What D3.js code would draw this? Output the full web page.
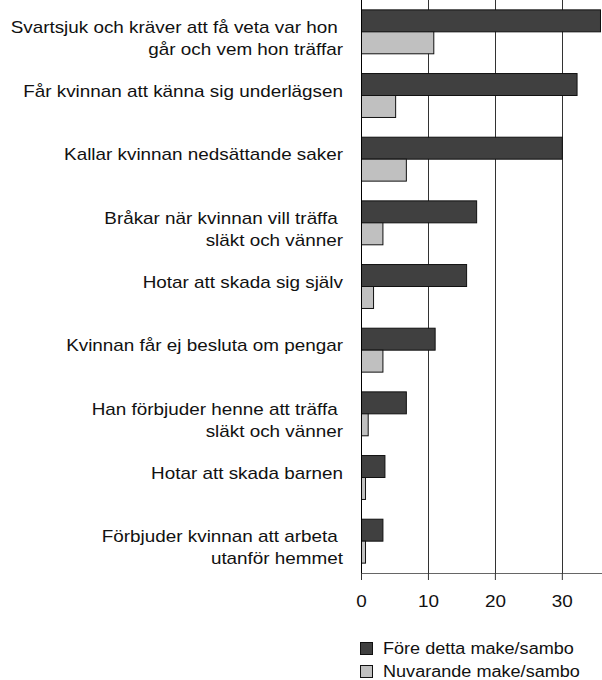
<!DOCTYPE html>
<html>
<head>
<meta charset="utf-8">
<script src="https://cdn.jsdelivr.net/npm/d3@7"></script>
<style>
  body { margin: 0; background: #fff; }
  svg { display: block; }
  text { font-family: "Liberation Sans", Arial, Helvetica, sans-serif; fill: #111; }
  .lbl { font-size: 16px; white-space: pre; }
</style>
</head>
<body>
<div id="chart-area"></div>
<script>
// data
var categories = [
  ['Svartsjuk och kräver att få veta var hon ', 'går och vem hon träffar'],
  ['Får kvinnan att känna sig underlägsen'],
  ['Kallar kvinnan nedsättande saker'],
  ['Bråkar när kvinnan vill träffa ', 'släkt och vänner'],
  ['Hotar att skada sig själv'],
  ['Kvinnan får ej besluta om pengar'],
  ['Han förbjuder henne att träffa ', 'släkt och vänner'],
  ['Hotar att skada barnen'],
  ['Förbjuder kvinnan att arbeta ', 'utanför hemmet']
];
var seriesNames = ['Före detta make/sambo', 'Nuvarande make/sambo'];
var formerValues = [35.7, 32.2, 30.0, 17.2, 15.7, 11.0, 6.7, 3.5, 3.2];
var currentValues = [10.8, 5.1, 6.7, 3.2, 1.8, 3.2, 1.0, 0.6, 0.6];
var xTicks = [0, 10, 20, 30];
var colors = ['#404040', '#c0c0c0'];

var stretch = 1.18; // the reference text is set wide
var legendStretch = 1.13;

var margin = { left: 361, right: 0, top: 0, bottom: 107 };
var width = 602 - margin.left - margin.right,
    height = 680 - margin.top - margin.bottom;

var svg = d3.select('#chart-area')
  .append('svg')
    .attr('width', 602)
    .attr('height', 680);

var g = svg.append('g')
  .attr('transform', 'translate(' + margin.left + ',' + margin.top + ')');

// scales
var xScale = d3.scaleLinear().domain([0, 36]).range([0, width]);
var yScale = d3.scaleBand().domain(d3.range(categories.length)).range([0, height])
  .paddingInner(0.31).paddingOuter(0.155);
var subScale = d3.scaleBand().domain([0, 1]).range([0, yScale.bandwidth()]);

// grid lines
g.selectAll('.grid')
  .data(xTicks.slice(1))
  .enter().append('line')
    .attr('class', 'grid')
    .attr('x1', function(d) { return Math.round(xScale(d)) + 0.5; })
    .attr('x2', function(d) { return Math.round(xScale(d)) + 0.5; })
    .attr('y1', 0)
    .attr('y2', height)
    .attr('stroke', '#333')
    .attr('stroke-width', 1);

// bars
var rows = categories.map(function(c, i) { return [formerValues[i], currentValues[i]]; });
var groups = g.selectAll('.row')
  .data(rows)
  .enter().append('g')
    .attr('class', 'row')
    .attr('transform', function(d, i) { return 'translate(0,' + yScale(i) + ')'; });

groups.selectAll('rect')
  .data(function(d) { return d; })
  .enter().append('rect')
    .attr('x', 0.5)
    .attr('y', function(d, j) { return subScale(j); })
    .attr('width', function(d) { return xScale(d); })
    .attr('height', subScale.bandwidth())
    .attr('fill', function(d, j) { return colors[j]; })
    .attr('stroke', '#111')
    .attr('stroke-width', 1);

// left axis line
g.append('line')
  .attr('x1', 0.5).attr('x2', 0.5)
  .attr('y1', 0).attr('y2', height)
  .attr('stroke', '#000');

// bottom axis
var xAxis = d3.axisBottom(xScale).tickValues(xTicks).tickSize(7).tickSizeOuter(0).tickPadding(16);
var xAxisGroup = g.append('g')
  .attr('class', 'x axis')
  .attr('transform', 'translate(0,' + height + ')')
  .call(xAxis);
xAxisGroup.attr('font-family', null).attr('font-size', null);
xAxisGroup.select('.domain').attr('stroke', '#666').attr('d', 'M0,0.5H' + width);
xAxisGroup.selectAll('.tick line').attr('stroke', '#333');
xAxisGroup.selectAll('.tick text')
  .style('font-size', '16px')
  .attr('fill', '#111')
  .attr('transform', 'scale(' + stretch + ',1)');

// category labels
var labels = svg.selectAll('.lbl')
  .data(categories)
  .enter().append('text')
    .attr('class', 'lbl')
    .attr('text-anchor', 'end')
    .attr('transform', function(d, i) {
      var y = margin.top + yScale(i) + yScale.bandwidth() / 2 + 1;
      return 'translate(343,' + y + ') scale(' + stretch + ',1)';
    });

labels.selectAll('tspan')
  .data(function(d) { return d; })
  .enter().append('tspan')
    .attr('x', 0)
    .attr('dy', function(d, j) { return j === 0 ? 0 : 22; })
    .text(function(d) { return d; });

// legend
var legend = svg.append('g')
  .attr('transform', 'translate(360,642)');

seriesNames.forEach(function(name, i) {
  var legendRow = legend.append('g')
    .attr('transform', 'translate(0,' + (i * 23) + ')');

  legendRow.append('rect')
    .attr('x', 0.5)
    .attr('y', 0.5)
    .attr('width', 12)
    .attr('height', 12)
    .attr('fill', colors[i])
    .attr('stroke', '#111');

  legendRow.append('text')
    .attr('transform', 'translate(23,12) scale(' + legendStretch + ',1)')
    .style('font-size', '16px')
    .text(name);
});
</script>
</body>
</html>
